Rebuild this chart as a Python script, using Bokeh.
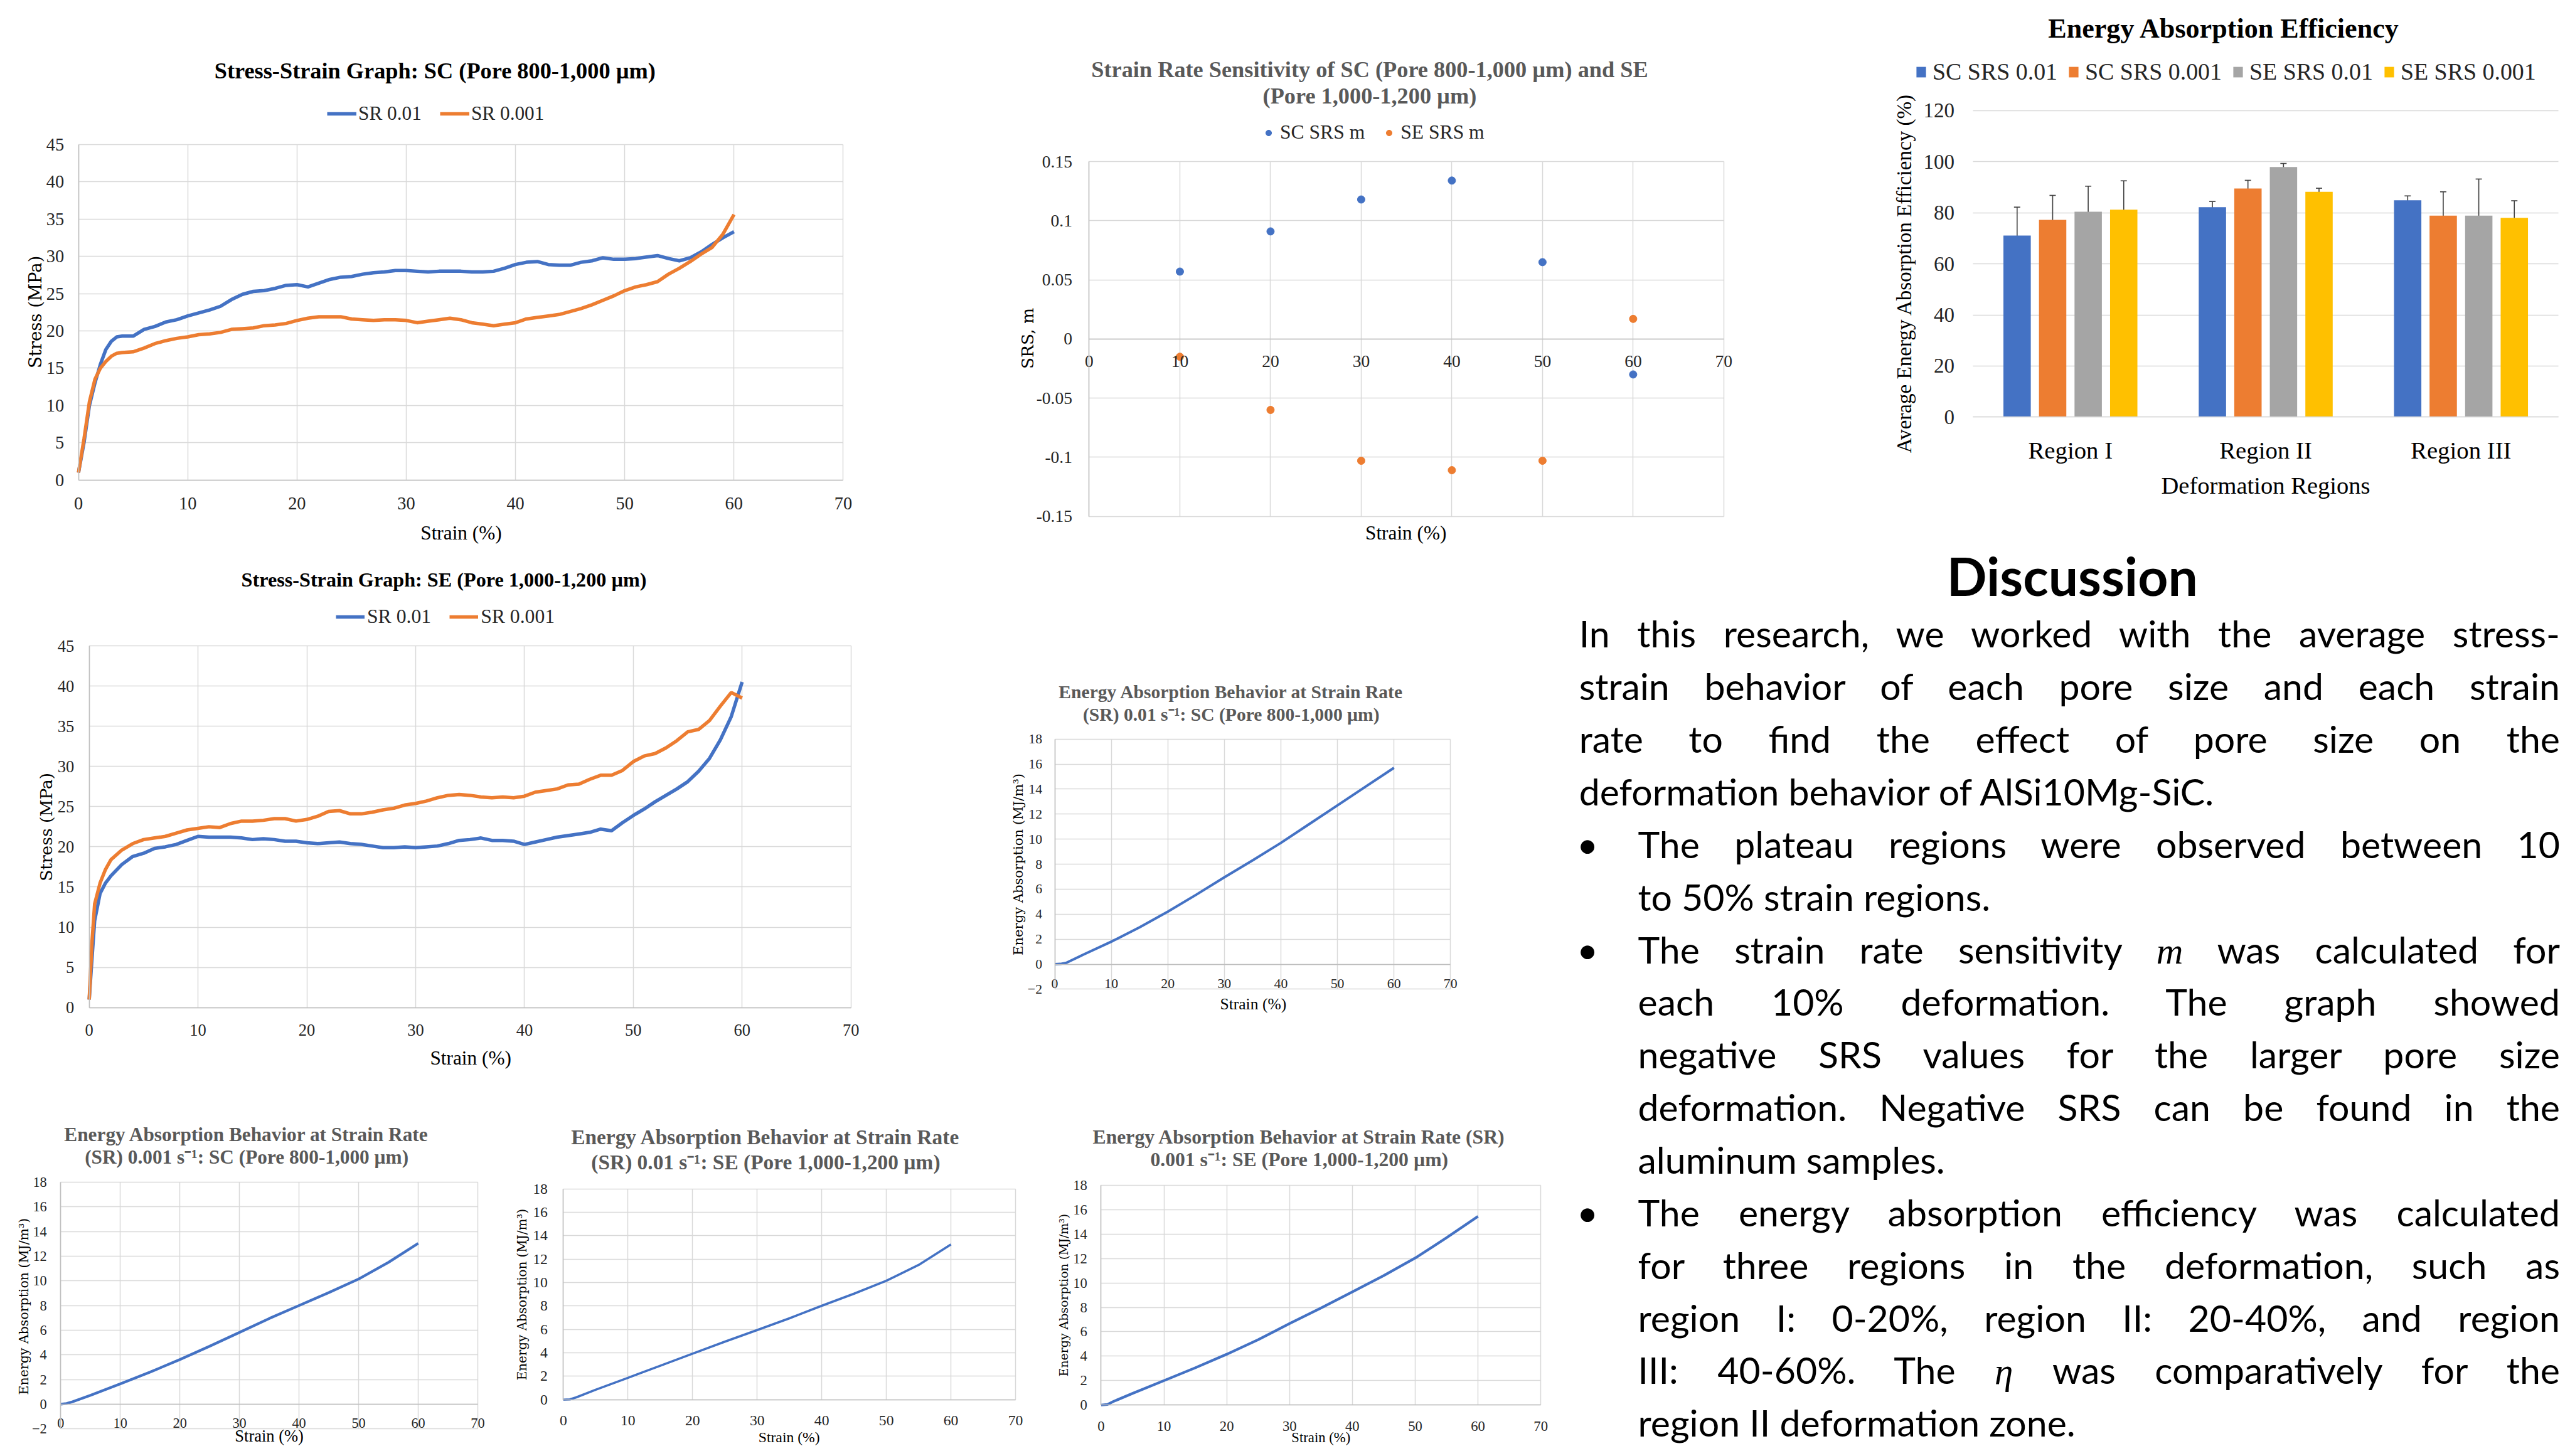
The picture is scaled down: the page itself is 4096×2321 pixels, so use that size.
import math
from bokeh.plotting import figure
from bokeh.models import (Range1d, FixedTicker, Label, Legend, LegendItem, Grid,
                          ColumnDataSource, Whisker, TeeHead, Div, CustomJSTickFormatter)
from bokeh.layouts import row, column
from bokeh.transform import dodge
from bokeh.embed import file_html
from bokeh.resources import INLINE

S = 0.947
O = 8.4
def C(v):
    return (v - O) * S
R_EDGE = O + 4080 / S
B_EDGE = O + 2305 / S
Y1 = 925

# ---------------- data ----------------
ss_strain = [0, 0.5, 1, 1.5, 2, 2.5, 3, 3.5, 4, 5, 6, 7, 8, 9, 10, 11, 12, 13, 14, 15, 16, 17, 18,
             19, 20, 21, 22, 23, 24, 25, 26, 27, 28, 29, 30, 31, 32, 33, 34, 35, 36, 37, 38, 39, 40,
             41, 42, 43, 44, 45, 46, 47, 48, 49, 50, 51, 52, 53, 54, 55, 56, 57, 58, 59, 60]
sc_sr01 = [1.0, 5.0, 10.0, 13.0, 15.5, 17.5, 18.6, 19.2, 19.3,
           19.3, 20.2, 20.6, 21.2, 21.5, 22.0, 22.4, 22.8, 23.3, 24.2,
           24.9, 25.3, 25.4, 25.7, 26.1, 26.2, 25.9, 26.4, 26.9, 27.2,
           27.3, 27.6, 27.8, 27.9, 28.1, 28.1, 28.0, 27.9, 28.0, 28.0,
           28.0, 27.9, 27.9, 28.0, 28.4, 28.9, 29.2, 29.3, 28.9, 28.8,
           28.8, 29.2, 29.4, 29.8, 29.6, 29.6, 29.7, 29.9, 30.1, 29.7,
           29.4, 29.8, 30.6, 31.6, 32.5, 33.3]
sc_sr001 = [1.0, 5.5, 10.5, 13.5, 15.0, 15.9, 16.6, 17.0, 17.1,
            17.2, 17.7, 18.3, 18.7, 19.0, 19.2, 19.5, 19.6, 19.8, 20.2,
            20.3, 20.4, 20.7, 20.8, 21.0, 21.4, 21.7, 21.9, 21.9, 21.9,
            21.6, 21.5, 21.4, 21.5, 21.5, 21.4, 21.1, 21.3, 21.5, 21.7,
            21.5, 21.1, 20.9, 20.7, 20.9, 21.1, 21.6, 21.8, 22.0, 22.2,
            22.6, 23.0, 23.5, 24.1, 24.7, 25.4, 25.9, 26.2, 26.6, 27.6,
            28.4, 29.3, 30.3, 31.2, 33.0, 35.6]

se_strain = [0, 0.25, 0.5, 1, 1.5, 2, 3, 4, 5, 6, 7, 8, 9, 10, 11, 12, 13, 14, 15, 16, 17, 18, 19,
             20, 21, 22, 23, 24, 25, 26, 27, 28, 29, 30, 31, 32, 33, 34, 35, 36, 37, 38, 39, 40,
             41, 42, 43, 44, 45, 46, 47, 48, 49, 50, 51, 52, 53, 54, 55, 56, 57, 58, 59, 60]
se_sr01 = [1.0, 6.0, 10.8, 14.2, 15.5, 16.4,
           17.8, 18.8, 19.2, 19.8, 20.0, 20.3, 20.8, 21.3,
           21.2, 21.2, 21.2, 21.1, 20.9, 21.0, 20.9, 20.7, 20.7, 20.5,
           20.4, 20.5, 20.6, 20.4, 20.3, 20.1, 19.9, 19.9, 20.0, 19.9,
           20.0, 20.1, 20.4, 20.8, 20.9, 21.1, 20.8, 20.8, 20.7, 20.3,
           20.6, 20.9, 21.2, 21.4, 21.6, 21.8, 22.2, 22.0, 23.0, 23.9,
           24.7, 25.6, 26.4, 27.2, 28.1, 29.4, 31.0, 33.3, 36.2, 40.5]
se_sr001 = [1.0, 8.0, 12.9, 15.5, 17.2, 18.4,
            19.6, 20.4, 20.9, 21.1, 21.3, 21.7, 22.1, 22.3,
            22.5, 22.4, 22.9, 23.2, 23.2, 23.3, 23.5, 23.5, 23.2, 23.4,
            23.8, 24.4, 24.5, 24.1, 24.1, 24.3, 24.6, 24.8, 25.2, 25.4,
            25.7, 26.1, 26.4, 26.5, 26.4, 26.2, 26.1, 26.2, 26.1, 26.3,
            26.8, 27.0, 27.2, 27.7, 27.8, 28.4, 28.9, 28.9, 29.5, 30.6,
            31.3, 31.6, 32.3, 33.2, 34.3, 34.6, 35.7, 37.5, 39.2, 38.5]

srs_strain = [10, 20, 30, 40, 50, 60]
sc_srs = [0.057, 0.091, 0.118, 0.134, 0.065, -0.030]
se_srs = [-0.015, -0.060, -0.103, -0.111, -0.103, 0.017]

regions = ["Region I", "Region II", "Region III"]
bar_series = ["SC SRS 0.01", "SC SRS 0.001", "SE SRS 0.01", "SE SRS 0.001"]
eff_sc01 = [71.1, 82.2, 84.9]
err_sc01 = [11.1, 2.2, 1.7]
eff_sc001 = [77.2, 89.5, 78.9]
err_sc001 = [9.6, 3.2, 9.3]
eff_se01 = [80.4, 97.9, 78.9]
err_se01 = [10.0, 1.4, 14.3]
eff_se001 = [81.2, 88.2, 78.0]
err_se001 = [11.3, 1.4, 6.7]

ea_strain = [0, 1, 2, 5, 10, 15, 20, 25, 30, 35, 40, 45, 50, 55, 60]
ea_sc01 = [0.0, 0.02, 0.1, 0.75, 1.8, 2.95, 4.2, 5.55, 6.95, 8.3, 9.7, 11.2, 12.7, 14.2, 15.7]
ea_sc001 = [0.0, 0.05, 0.2, 0.72, 1.65, 2.6, 3.62, 4.7, 5.82, 6.95, 8.0, 9.05, 10.15, 11.5, 13.05]
ea_se01 = [0.0, 0.03, 0.2, 0.85, 1.87, 2.9, 3.93, 4.95, 5.94, 6.95, 8.02, 9.05, 10.15, 11.5, 13.25]
ea_se001 = [0.0, 0.05, 0.3, 0.95, 2.0, 3.05, 4.16, 5.35, 6.67, 7.95, 9.27, 10.6, 12.04, 13.7, 15.45]

x_ticks = [0, 10, 20, 30, 40, 50, 60, 70]
stress_ticks = [0, 5, 10, 15, 20, 25, 30, 35, 40, 45]
srs_ticks = [-0.15, -0.1, -0.05, 0, 0.05, 0.1, 0.15]
ea_ticks_neg = [-2, 0, 2, 4, 6, 8, 10, 12, 14, 16, 18]
ea_ticks = [0, 2, 4, 6, 8, 10, 12, 14, 16, 18]
eff_ticks = [0, 20, 40, 60, 80, 100, 120]

# ---------------- style ----------------
BLUE = "#4472C4"; ORANGE = "#ED7D31"; GRAYB = "#A5A5A5"; GOLD = "#FFC000"
GRID = "#D9D9D9"; AXIS = "#BFBFBF"; TICK = "#262626"; TGRAY = "#595959"
SERIF = "Liberation Serif"; YSERIF = "DejaVu Serif"
HAS_CB = "cross_bounds" in Grid.properties()


def mkfig(box, area, xr, yr):
    """box: figure outer box (reference px); area: plot area (reference px)."""
    bx0, by0, bx1, by1 = [round(C(v)) for v in box]
    ax0, ay0, ax1, ay1 = [C(v) for v in area]
    kx = (xr[1] - xr[0]) / (ax1 - ax0)
    ky = (yr[1] - yr[0]) / (ay1 - ay0)
    xs = xr[0] - (ax0 - bx0) * kx
    xe = xr[1] + (bx1 - ax1) * kx
    ye = yr[1] + (ay0 - by0) * ky
    ys = yr[0] - (by1 - ay1) * ky
    p = figure(width=bx1 - bx0, height=by1 - by0, x_range=Range1d(xs, xe), y_range=Range1d(ys, ye),
               min_border=0, min_border_left=0, min_border_right=0, min_border_top=0, min_border_bottom=0,
               output_backend="svg", toolbar_location=None)
    p.outline_line_color = None
    p.background_fill_color = "white"
    p.border_fill_color = "white"
    geo = dict(ax0=ax0, ay0=ay0, kx=kx, ky=ky, xr=xr, yr=yr, bx0=bx0, by0=by0, bx1=bx1, by1=by1,
               rtop=box[1], rbot=box[3])
    return p, geo


def D(g, rx, ry):
    return g["xr"][0] + (C(rx) - g["ax0"]) * g["kx"], g["yr"][1] - (C(ry) - g["ay0"]) * g["ky"]


def lab(p, g, text, rx, ry, size, color="#000000", bold=False, font=SERIF, angle=0.0):
    if angle == 0.0:
        ry = ry + 0.16 * size
        ry = min(ry, g["rbot"] - 1.5 - 0.55 * size)
    else:
        rx = rx + 0.25 * size
    x, y = D(g, rx, ry)
    p.add_layout(Label(x=x, y=y, text=text, text_font=font,
                       text_font_size=f"{size * S:.1f}px", text_color=color,
                       text_font_style="bold" if bold else "normal",
                       text_align="center", text_baseline="middle", angle=angle))


def grids(p, g, xticks, yticks):
    xr, yr = g["xr"], g["yr"]
    if HAS_CB:
        if xticks:
            p.xgrid[0].ticker = FixedTicker(ticks=xticks)
            p.xgrid[0].bounds = tuple(xr)
            p.xgrid[0].cross_bounds = tuple(yr)
        else:
            p.xgrid[0].visible = False
        p.ygrid[0].ticker = FixedTicker(ticks=yticks)
        p.ygrid[0].bounds = tuple(yr)
        p.ygrid[0].cross_bounds = tuple(xr)
        p.grid.grid_line_color = GRID
        p.grid.grid_line_width = 1.5
    else:
        p.grid.visible = False
        if xticks:
            p.segment(x0=xticks, y0=[yr[0]] * len(xticks), x1=xticks, y1=[yr[1]] * len(xticks),
                      line_color=GRID, line_width=1.5, level="underlay")
        p.segment(x0=[xr[0]] * len(yticks), y0=yticks, x1=[xr[1]] * len(yticks), y1=yticks,
                  line_color=GRID, line_width=1.5, level="underlay")


def axes(p, g, xticks, yticks, fs, xlab_center, ylab_gap):
    F = fs * S
    for ax in p.axis:
        ax.major_tick_line_color = None
        ax.minor_tick_line_color = None
        ax.major_tick_out = 0
        ax.major_tick_in = 0
        ax.major_label_text_font = SERIF
        ax.major_label_text_font_size = f"{F:.1f}px"
        ax.major_label_text_color = TICK
        ax.axis_line_color = AXIS
        ax.axis_line_width = 1.5
    xa = p.xaxis[0]
    ya = p.yaxis[0]
    xa.ticker = FixedTicker(ticks=xticks)
    ya.ticker = FixedTicker(ticks=yticks)
    xa.fixed_location = 0
    ya.fixed_location = g["xr"][0]
    xa.bounds = tuple(g["xr"])
    ya.bounds = tuple(g["yr"])
    xa.major_label_standoff = max(0, round(xlab_center * S - 0.25 * F))
    ya.major_label_standoff = round(ylab_gap * S)
    grids(p, g, xticks, yticks)


def legend(p, g, items, left, cy, fs, gw, gh=None, standoff=5, spacing=20):
    F = fs * S
    H = round(1.15 * F)
    ghp = H if gh is None else round(gh * S)
    cy = cy + 0.16 * fs
    vx = round(C(left) - g["bx0"])
    vy = round(g["by1"] - (C(cy) + H / 2))
    lg = Legend(items=[LegendItem(label=t, renderers=[r]) for t, r in items],
                location=(vx, vy), orientation="horizontal",
                glyph_width=round(gw * S), glyph_height=ghp, label_height=H,
                label_standoff=round(standoff * S), spacing=round(spacing * S),
                padding=0, margin=0, border_line_color=None, background_fill_alpha=0,
                label_text_font=SERIF, label_text_font_size=f"{F:.1f}px",
                label_text_color=TICK)
    p.add_layout(lg)


VERT = math.pi / 2

# ---------- Chart 1: SC stress-strain ----------
p1, g1 = mkfig((O, O, 1600, Y1), (140, 251, 1427, 816), (0, 70), (0, 45))
axes(p1, g1, x_ticks, stress_ticks, 30, 36.7, 24)
r1a = p1.line(ss_strain, sc_sr01, line_color=BLUE, line_width=5.5)
r1b = p1.line(ss_strain, sc_sr001, line_color=ORANGE, line_width=5.5)
lab(p1, g1, "Stress-Strain Graph: SC (Pore 800-1,000 µm)", 740, 121, 38.3, bold=True)
lab(p1, g1, "Strain (%)", 784, 901, 33)
lab(p1, g1, "Stress (MPa)", 60, 533, 29, font=YSERIF, angle=VERT)
legend(p1, g1, [("SR 0.01", r1a), ("SR 0.001", r1b)], 559, 194, 33, 50, standoff=3, spacing=31)

# ---------- Chart 2: SE stress-strain ----------
p2, g2 = mkfig((O, Y1, 1600, 1870), (158, 1095, 1440, 1704), (0, 70), (0, 45))
axes(p2, g2, x_ticks, stress_ticks, 28, 35, 25)
r2a = p2.line(se_strain, se_sr01, line_color=BLUE, line_width=5.5)
r2b = p2.line(se_strain, se_sr001, line_color=ORANGE, line_width=5.5)
lab(p2, g2, "Stress-Strain Graph: SE (Pore 1,000-1,200 µm)", 755, 978.5, 34, bold=True)
lab(p2, g2, "Strain (%)", 800, 1783, 33)
lab(p2, g2, "Stress (MPa)", 79, 1400, 28, font=YSERIF, angle=VERT)
legend(p2, g2, [("SR 0.01", r2a), ("SR 0.001", r2b)], 573, 1041, 33.5, 49, standoff=4, spacing=31)

# ---------- Chart 3: SRS ----------
p3, g3 = mkfig((1600, O, 3120, Y1), (1841, 280, 2909, 877), (0, 70), (-0.15, 0.15))
axes(p3, g3, x_ticks, srs_ticks, 29, 36, 28)
p3.yaxis[0].formatter = CustomJSTickFormatter(code="return String(Math.round(tick*100)/100)")
r3a = p3.scatter(srs_strain, sc_srs, size=12, color=BLUE)
r3b = p3.scatter(srs_strain, se_srs, size=12, color=ORANGE)
lab(p3, g3, "Strain Rate Sensitivity of SC (Pore 800-1,000 µm) and SE", 2313, 119, 38.3, color=TGRAY, bold=True)
lab(p3, g3, "(Pore 1,000-1,200 µm)", 2313, 163, 38.3, color=TGRAY, bold=True)
lab(p3, g3, "Strain (%)", 2374, 904, 33)
lab(p3, g3, "SRS, m", 1730, 577.5, 28, font=YSERIF, angle=VERT)
legend(p3, g3, [("SC SRS m", r3a), ("SE SRS m", r3b)], 2131, 226, 33.4, 24, gh=24, standoff=7, spacing=28)

# ---------- Chart 4: efficiency bars ----------
p4, g4 = mkfig((3120, O, R_EDGE, Y1), (3328, 194, 4314, 710), (0, 3), (0, 120))
region_pos = [i + 0.5 for i, _ in enumerate(regions)]
src = ColumnDataSource(dict(
    rx=region_pos,
    sc01=eff_sc01, sc01_lo=[v - e for v, e in zip(eff_sc01, err_sc01)], sc01_hi=[v + e for v, e in zip(eff_sc01, err_sc01)],
    sc001=eff_sc001, sc001_lo=[v - e for v, e in zip(eff_sc001, err_sc001)], sc001_hi=[v + e for v, e in zip(eff_sc001, err_sc001)],
    se01=eff_se01, se01_lo=[v - e for v, e in zip(eff_se01, err_se01)], se01_hi=[v + e for v, e in zip(eff_se01, err_se01)],
    se001=eff_se001, se001_lo=[v - e for v, e in zip(eff_se001, err_se001)], se001_hi=[v + e for v, e in zip(eff_se001, err_se001)]))
bar_specs = [("sc01", -0.273, BLUE), ("sc001", -0.091, ORANGE), ("se01", 0.091, GRAYB), ("se001", 0.273, GOLD)]
bar_r = []
for key, off, col in bar_specs:
    r = p4.vbar(x=dodge("rx", off), top=key, width=0.14, source=src, fill_color=col, line_color=None)
    bar_r.append(r)
    w = Whisker(source=src, base=dodge("rx", off), upper=key + "_hi", lower=key + "_lo",
                line_color="#404040", line_width=1.6,
                upper_head=TeeHead(size=10, line_color="#404040", line_width=1.6),
                lower_head=TeeHead(size=10, line_color="#404040", line_width=1.6))
    p4.add_layout(w)
for ax in p4.axis:
    ax.major_tick_line_color = None
    ax.minor_tick_line_color = None
    ax.major_tick_out = 0
    ax.major_tick_in = 0
    ax.major_label_text_font = SERIF
    ax.major_label_text_color = TICK
xa4 = p4.xaxis[0]; ya4 = p4.yaxis[0]
xa4.ticker = FixedTicker(ticks=region_pos)
xa4.formatter = CustomJSTickFormatter(args=dict(names=regions), code="return names[Math.floor(tick)] || ''")
xa4.fixed_location = 0
xa4.bounds = (0, 3)
xa4.axis_line_color = GRID
xa4.axis_line_width = 1.5
xa4.major_label_text_font_size = f"{41 * S:.1f}px"
xa4.major_label_text_color = "#000000"
xa4.major_label_standoff = round(48 * S - 0.38 * 41 * S)
ya4.ticker = FixedTicker(ticks=eff_ticks)
ya4.fixed_location = 0
ya4.bounds = (0, 120)
ya4.axis_line_color = None
ya4.major_label_text_font_size = f"{35 * S:.1f}px"
ya4.major_label_standoff = round(31 * S)
grids(p4, g4, None, eff_ticks)
lab(p4, g4, "Energy Absorption Efficiency", 3751, 48, 46.6, bold=True)
lab(p4, g4, "Deformation Regions", 3821, 819, 40.8)
lab(p4, g4, "Average Energy Absorption Efficiency (%)", 3204, 468, 35, angle=VERT)
legend(p4, g4, list(zip(bar_series, bar_r)), 3231, 122, 40, 20, gh=22, standoff=10, spacing=17)

# ---------- Chart 5: energy SC 0.01 ----------
p5, g5 = mkfig((1600, Y1, 2640, 1870), (1783, 1252, 2449, 1673), (0, 70), (-2, 18))
axes(p5, g5, x_ticks, ea_ticks_neg, 23, 31, 21)
p5.line(ea_strain, ea_sc01, line_color=BLUE, line_width=4.0)
lab(p5, g5, "Energy Absorption Behavior at Strain Rate", 2080, 1168, 31.3, color=TGRAY, bold=True)
lab(p5, g5, "(SR) 0.01 s⁻¹: SC (Pore 800-1,000 µm)", 2080, 1206, 31.3, color=TGRAY, bold=True)
lab(p5, g5, "Strain (%)", 2117, 1693.5, 27)
lab(p5, g5, "Energy Absorption (MJ/m³)", 1716, 1463, 22.3, font=YSERIF, angle=VERT)

# ---------- Chart 6: energy SC 0.001 ----------
p6, g6 = mkfig((O, 1870, 850, B_EDGE), (110, 1998, 812, 2413), (0, 70), (-2, 18))
axes(p6, g6, x_ticks, ea_ticks_neg, 23.6, 30.5, 23)
p6.line(ea_strain, ea_sc001, line_color=BLUE, line_width=4.2)
lab(p6, g6, "Energy Absorption Behavior at Strain Rate", 423, 1912, 33, color=TGRAY, bold=True)
lab(p6, g6, "(SR) 0.001 s⁻¹: SC (Pore 800-1,000 µm)", 423, 1950.5, 33, color=TGRAY, bold=True)
lab(p6, g6, "Strain (%)", 461, 2435, 28)
lab(p6, g6, "Energy Absorption (MJ/m³)", 43, 2207, 21.7, font=YSERIF, angle=VERT)

# ---------- Chart 7: energy SE 0.01 ----------
p7, g7 = mkfig((850, 1870, 1740, B_EDGE), (956, 2009, 1717, 2364), (0, 70), (0, 18))
axes(p7, g7, x_ticks, ea_ticks, 25, 34, 26)
p7.line(ea_strain, ea_se01, line_color=BLUE, line_width=3.6)
lab(p7, g7, "Energy Absorption Behavior at Strain Rate", 1296.6, 1916, 35.3, color=TGRAY, bold=True)
lab(p7, g7, "(SR) 0.01 s⁻¹: SE (Pore 1,000-1,200 µm)", 1296.6, 1958, 35.3, color=TGRAY, bold=True)
lab(p7, g7, "Strain (%)", 1336, 2435, 25)
lab(p7, g7, "Energy Absorption (MJ/m³)", 882, 2187, 21, font=YSERIF, angle=VERT)

# ---------- Chart 8: energy SE 0.001 ----------
p8, g8 = mkfig((1740, 1870, 2640, B_EDGE), (1861, 2003, 2601, 2373), (0, 70), (0, 18))
axes(p8, g8, x_ticks, ea_ticks, 24, 33, 23.5)
p8.line(ea_strain, ea_se001, line_color=BLUE, line_width=4.2)
lab(p8, g8, "Energy Absorption Behavior at Strain Rate (SR)", 2194.5, 1916, 33.5, color=TGRAY, bold=True)
lab(p8, g8, "0.001 s⁻¹: SE (Pore 1,000-1,200 µm)", 2194.5, 1954, 33.5, color=TGRAY, bold=True)
lab(p8, g8, "Strain (%)", 2231, 2441, 24)
lab(p8, g8, "Energy Absorption (MJ/m³)", 1793, 2188, 20, font=YSERIF, angle=VERT)

# ---------- Discussion text ----------
DL = round(C(2640)); DT = round(C(Y1))
W_div = 4080 - DL; H_div = 2305 - DT
FS = 59
LH = 89.6 * S - 1.0
base1 = C(1101.5) - DT - 2
top0 = base1 - (LH / 2 + 0.387 * FS)
IT = "<span style=\"font-family:'Liberation Serif';font-style:italic;\">{}</span>"
disc_lines = [
    ("p", "In this research, we worked with the average stress-", True),
    ("p", "strain behavior of each pore size and each strain", True),
    ("p", "rate to find the effect of pore size on the", True),
    ("p", "deformation behavior of AlSi10Mg-SiC.", False),
    ("b1", "The plateau regions were observed between 10", True),
    ("b", "to 50% strain regions.", False),
    ("b1", "The strain rate sensitivity " + IT.format("m") + " was calculated for", True),
    ("b", "each 10% deformation. The graph showed", True),
    ("b", "negative SRS values for the larger pore size", True),
    ("b", "deformation. Negative SRS can be found in the", True),
    ("b", "aluminum samples.", False),
    ("b1", "The energy absorption efficiency was calculated", True),
    ("b", "for three regions in the deformation, such as", True),
    ("b", "region I: 0-20%, region II: 20-40%, and region", True),
    ("b", "III: 40-60%. The " + IT.format("η") + " was comparatively for the", True),
    ("b", "region II deformation zone.", False),
]
P_LEFT = C(2666) - DL
B_LEFT = C(2765) - DL
BUL_C = C(2680) - DL
parts = []
title_c = C(3496) - DL
TF = 84
title_base = C(1009.5) - DT + 2
TLH = TF * 1.2
title_top = max(0.0, title_base - (TLH / 2 + 0.387 * TF))
parts.append(f'<div style="position:absolute;left:{title_c - 400:.1f}px;width:800px;top:{title_top:.1f}px;'
             f'height:{TLH:.1f}px;line-height:{TLH:.1f}px;text-align:center;font-weight:bold;font-size:{TF}px;">Discussion</div>')
n_lines = len(disc_lines)
for i, (kind, txt, just) in enumerate(disc_lines):
    top = top0 + i * LH
    left = P_LEFT if kind == "p" else B_LEFT
    align = "text-align:justify;text-align-last:justify;" if just else "text-align:left;"
    lh_box = LH if i < n_lines - 1 else min(LH, H_div - top)
    parts.append(f'<div style="position:absolute;left:{left:.1f}px;right:0px;top:{top:.1f}px;height:{lh_box:.1f}px;'
                 f'line-height:{LH:.1f}px;{align}">{txt}</div>')
    if kind == "b1":
        parts.append(f'<div style="position:absolute;left:0px;width:{2 * BUL_C:.1f}px;top:{top:.1f}px;height:{LH:.1f}px;'
                     f'line-height:{LH:.1f}px;text-align:center;">&bull;</div>')
html = (f'<div style="position:relative;width:{W_div}px;height:{H_div}px;overflow:hidden;'
        f'font-family:Lato;font-size:{FS}px;color:#000000;background:#ffffff;">' + "".join(parts) + "</div>")
disc = Div(text=html, width=W_div, height=H_div, margin=0, styles={"overflow": "hidden"})

top_row = row(p1, p3, p4, spacing=0)
mid_row = row(p2, p5, spacing=0)
bot_row = row(p6, p7, p8, spacing=0)
left_col = column(mid_row, bot_row, spacing=0)
lower = row(left_col, disc, spacing=0)
page = column(top_row, lower, spacing=0)

open("out.html", "w").write(file_html(page, INLINE, title="Poster charts"))
